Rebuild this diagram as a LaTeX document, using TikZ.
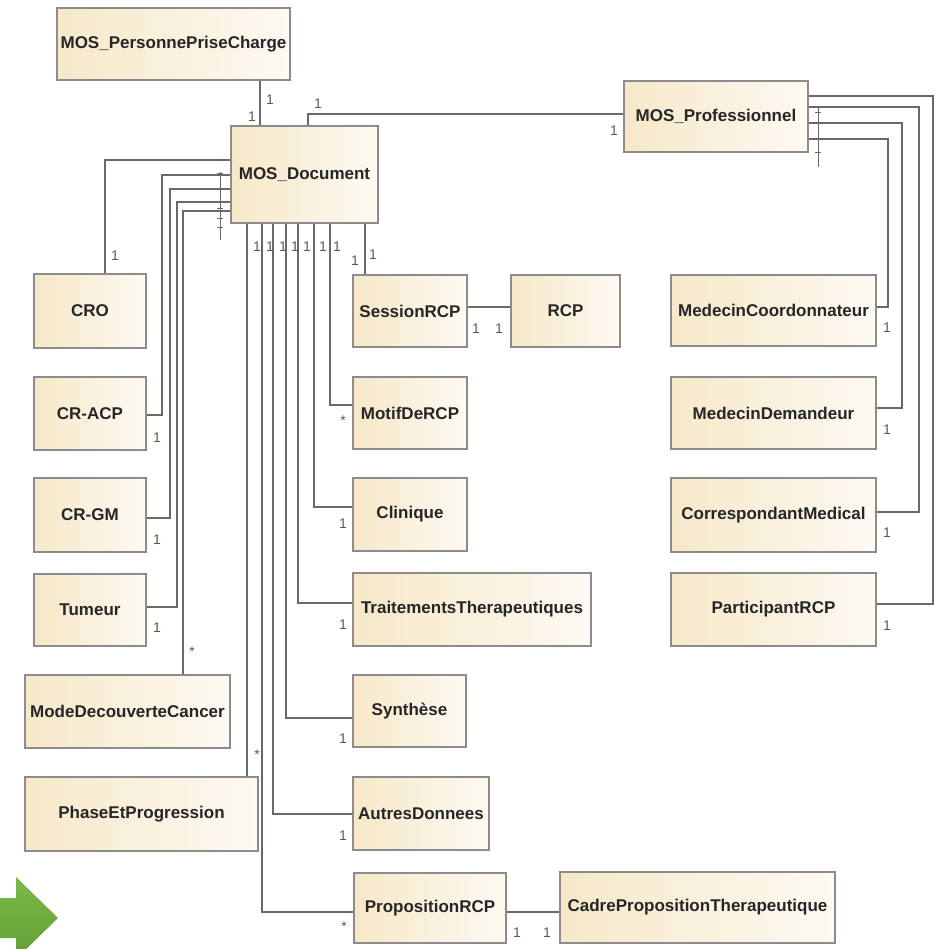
\documentclass[tikz,border=0pt]{standalone}
\usepackage{fontspec}
\setmainfont{Liberation Sans}

\definecolor{boxl}{RGB}{246,232,200}
\definecolor{boxr}{RGB}{253,250,243}
\definecolor{boxd}{RGB}{140,140,140}
\definecolor{wirec}{RGB}{105,105,105}
\definecolor{multc}{RGB}{90,90,90}
\definecolor{arrl}{RGB}{124,184,74}
\definecolor{arrd}{RGB}{98,160,52}

\tikzset{
 cls/.style={draw=boxd, line width=0.9pt, left color=boxl, right color=boxr, inner sep=0pt,
   font=\fontsize{12.75}{15}\selectfont\bfseries, text=black!85},
 wire/.style={draw=wirec, line width=0.9pt},
 tickline/.style={draw=wirec, line width=0.7pt},
 mult/.style={font=\fontsize{10.5}{12}\selectfont, text=multc, inner sep=0pt},
}
% \clsbox{name}{x1}{y1}{x2}{y2}{text}
\newcommand\clsbox[6]{%
  \node[cls, minimum width={(#4-#2)*0.75pt}, minimum height={(#5-#3)*0.75pt}]
    (#1) at ({(#2+#4)/2},{(#3+#5)/2}) {#6};}

\begin{document}
\begin{tikzpicture}[x=0.75pt,y=-0.75pt]
\clip (0,0) rectangle (944,949);
\fill[white] (0,0) rectangle (944,949);

% classes
\clsbox{ppc}{57}{8}{290}{80}{MOS\_PersonnePriseCharge}
\clsbox{doc}{231}{126}{378}{223}{MOS\_Document}
\clsbox{prof}{624}{81}{808}{152}{MOS\_Professionnel}
\clsbox{cro}{34}{274}{146}{348}{CRO}
\clsbox{acp}{34}{377}{146}{450}{CR-ACP}
\clsbox{crgm}{34}{478}{146}{552}{CR-GM}
\clsbox{tum}{34}{574}{146}{646}{Tumeur}
\clsbox{mode}{25}{675}{230}{748}{ModeDecouverteCancer}
\clsbox{phase}{25}{777}{258}{851}{PhaseEtProgression}
\clsbox{sess}{353}{275}{467}{347}{SessionRCP}
\clsbox{rcp}{511}{275}{620}{347}{RCP}
\clsbox{motif}{353}{377}{467}{449}{MotifDeRCP}
\clsbox{clin}{353}{478}{467}{551}{Clinique}
\clsbox{trait}{353}{573}{591}{646}{TraitementsTherapeutiques}
\clsbox{syn}{353}{675}{466}{747}{Synthèse}
\clsbox{autres}{353}{777}{489}{850}{AutresDonnees}
\clsbox{prop}{354}{873}{506}{943}{PropositionRCP}
\clsbox{cadre}{560}{872}{835}{943}{CadrePropositionTherapeutique}
\clsbox{mcoord}{671}{275}{876}{346}{MedecinCoordonnateur}
\clsbox{mdem}{671}{377}{876}{449}{MedecinDemandeur}
\clsbox{corr}{671}{478}{876}{552}{CorrespondantMedical}
\clsbox{part}{671}{573}{876}{646}{ParticipantRCP}

% connectors top
\draw[wire] (ppc.south -| 260,0) -- (doc.north -| 260,0);
\draw[wire] (doc.north -| 308,0) |- (prof.west |- 0,114);

% connectors left
\draw[wire] (doc.west |- 0,160) -| (cro.north -| 105,0);
\draw[wire] (doc.west |- 0,175) -| (162,415) -- (acp.east |- 0,415);
\draw[wire] (doc.west |- 0,189) -| (170,518) -- (crgm.east |- 0,518);
\draw[wire] (doc.west |- 0,202) -| (177,607) -- (tum.east |- 0,607);
\draw[wire] (doc.west |- 0,211) -| (mode.north -| 183,0);

% connectors bottom
\draw[wire] (doc.south -| 247,0) -- (phase.north -| 247,0);
\draw[wire] (doc.south -| 262,0) |- (prop.west |- 0,912);
\draw[wire] (doc.south -| 273,0) |- (autres.west |- 0,814);
\draw[wire] (doc.south -| 286,0) |- (syn.west |- 0,718);
\draw[wire] (doc.south -| 298,0) |- (trait.west |- 0,603);
\draw[wire] (doc.south -| 314,0) |- (clin.west |- 0,507);
\draw[wire] (doc.south -| 330,0) |- (motif.west |- 0,405);
\draw[wire] (doc.south -| 365,0) -- (sess.north -| 365,0);
\draw[wire] (sess.east |- 0,307) -- (rcp.west |- 0,307);
\draw[wire] (prop.east |- 0,912) -- (cadre.west |- 0,912);

% connectors right
\draw[wire] (prof.east |- 0,139) -| (888,307) -- (mcoord.east |- 0,307);
\draw[wire] (prof.east |- 0,123) -| (902,408) -- (mdem.east |- 0,408);
\draw[wire] (prof.east |- 0,107) -| (919,512) -- (corr.east |- 0,512);
\draw[wire] (prof.east |- 0,96) -| (933,604) -- (part.east |- 0,604);

% crowded multiplicity marks
\draw[tickline] (220,172) -- (220,240);
\foreach \yy in {173,188,202,208,218,227} \draw[tickline] (217,\yy) -- (223,\yy);
\draw[tickline] (818,108) -- (818,167);
\foreach \yy in {112,122,139,152} \draw[tickline] (815,\yy) -- (821,\yy);

% multiplicities
\node[mult] (m1) at (270,100) {1};
\node[mult] (m2) at (252,117) {1};
\node[mult] (m3) at (318,104) {1};
\node[mult] (m4) at (614,131) {1};
\node[mult] (m5) at (115,256) {1};
\node[mult] (m6) at (157,438) {1};
\node[mult] (m7) at (157,540) {1};
\node[mult] (m8) at (157,628) {1};
\node[mult] (m9) at (192,652) {*};
\node[mult] (b1) at (257,247) {1};
\node[mult] (b2) at (270,247) {1};
\node[mult] (b3) at (283,247) {1};
\node[mult] (b4) at (295,247) {1};
\node[mult] (b5) at (307,247) {1};
\node[mult] (b6) at (323,247) {1};
\node[mult] (b7) at (337,247) {1};
\node[mult] (s1) at (355,261) {1};
\node[mult] (s2) at (373,255) {1};
\node[mult] (r1) at (476,329) {1};
\node[mult] (r2) at (499,329) {1};
\node[mult] (mo) at (343,421) {*};
\node[mult] (cl) at (343,524) {1};
\node[mult] (tr) at (343,625) {1};
\node[mult] (sy) at (343,739) {1};
\node[mult] (au) at (343,836) {1};
\node[mult] (ph) at (257,755) {*};
\node[mult] (pr) at (344,927) {*};
\node[mult] (c1) at (517,933) {1};
\node[mult] (c2) at (547,933) {1};
\node[mult] (q1) at (887,328) {1};
\node[mult] (q2) at (887,430) {1};
\node[mult] (q3) at (887,533) {1};
\node[mult] (q4) at (887,626) {1};

% green arrow
\shade[top color=arrl, bottom color=arrd]
  (0,898) -- (16,898) -- (16,877) -- (58,918) -- (16,959) -- (16,938) -- (0,938) -- cycle;
\end{tikzpicture}
\end{document}
